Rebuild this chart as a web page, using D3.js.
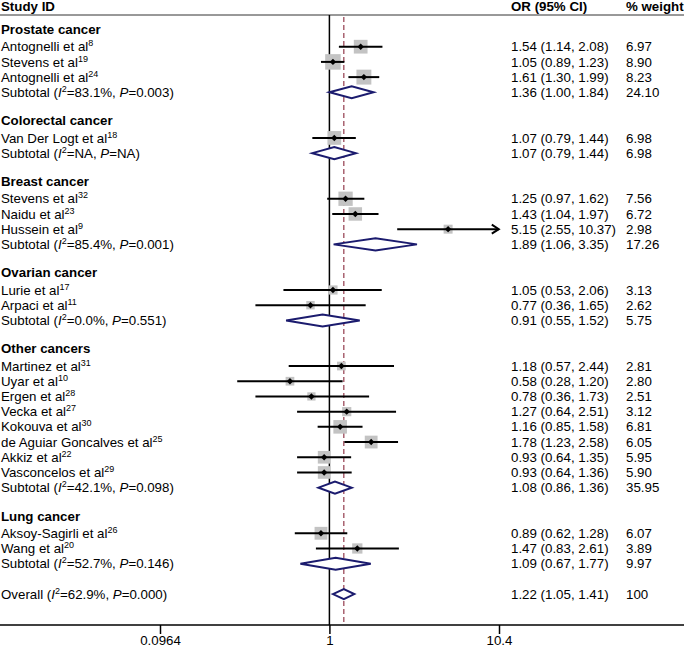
<!DOCTYPE html>
<html>
<head>
<meta charset="utf-8">
<script src="https://cdn.jsdelivr.net/npm/d3@7/dist/d3.min.js"></script>
<style>
  html, body { margin: 0; padding: 0; background: #fff; }
  svg { display: block; font-family: "Liberation Sans", Arial, sans-serif; }
</style>
</head>
<body>
<svg id="chart" width="684" height="649"></svg>
<script>
// ---------------- DATA ----------------
const groupNames = ["Prostate cancer", "Colorectal cancer", "Breast cancer", "Ovarian cancer", "Other cancers", "Lung cancer"];

const studyNames = ["Antognelli", "Stevens", "Antognelli", "Van Der Logt", "Stevens", "Naidu", "Hussein",
  "Lurie", "Arpaci", "Martinez", "Uyar", "Ergen", "Vecka", "Kokouva", "de Aguiar Goncalves", "Akkiz",
  "Vasconcelos", "Aksoy-Sagirli", "Wang"];
const studyRefs = ["8", "19", "24", "18", "32", "23", "9", "17", "11", "31", "10", "28", "27", "30", "25", "22", "29", "26", "20"];
const studyGroup = [0, 0, 0, 1, 2, 2, 2, 3, 3, 4, 4, 4, 4, 4, 4, 4, 4, 5, 5];
const studyOR = [1.54, 1.05, 1.61, 1.07, 1.25, 1.43, 5.15, 1.05, 0.77, 1.18, 0.58, 0.78, 1.27, 1.16, 1.78, 0.93, 0.93, 0.89, 1.47];
const studyLo = [1.14, 0.89, 1.30, 0.79, 0.97, 1.04, 2.55, 0.53, 0.36, 0.57, 0.28, 0.36, 0.64, 0.85, 1.23, 0.64, 0.64, 0.62, 0.83];
const studyHi = [2.08, 1.23, 1.99, 1.44, 1.62, 1.97, 10.37, 2.06, 1.65, 2.44, 1.20, 1.73, 2.51, 1.58, 2.58, 1.35, 1.36, 1.28, 2.61];
const studyWeight = [6.97, 8.90, 8.23, 6.98, 7.56, 6.72, 2.98, 3.13, 2.62, 2.81, 2.80, 2.51, 3.12, 6.81, 6.05, 5.95, 5.90, 6.07, 3.89];

const subOR = [1.36, 1.07, 1.89, 0.91, 1.08, 1.09];
const subLo = [1.00, 0.79, 1.06, 0.55, 0.86, 0.67];
const subHi = [1.84, 1.44, 3.35, 1.52, 1.36, 1.77];
const subWeight = [24.10, 6.98, 17.26, 5.75, 35.95, 9.97];
const subI2 = ["83.1%", "NA", "85.4%", "0.0%", "42.1%", "52.7%"];
const subP = ["0.003", "NA", "0.001", "0.551", "0.098", "0.146"];

const overallOR = 1.22, overallLo = 1.05, overallHi = 1.41, overallWeight = 100;
const overallI2 = "62.9%", overallP = "0.000";

const axisTicks = [0.0964, 1, 10.4];
const axisTickLabels = ["0.0964", "1", "10.4"];

// ---------------- LAYOUT ----------------
const W = 684, H = 649;
const svg = d3.select("#chart");
svg.append("rect").attr("width", W).attr("height", H).attr("fill", "#fff");

const x = d3.scaleLog().domain([0.0964, 10.4]).range([160, 499]);
const rowY = d3.scaleLinear().domain([2, 38]).range([46.7, 594.1]);

const FS = 13.3, SUP = 9;
const colOR = 511, colW = 626;
const headerLineY = 15, axisY = 625;
const navy = "#1b1b6e";
const fmt = d3.format(".2f");

// build row list
const rows = [];
let r = 1;
groupNames.forEach((g, gi) => {
  rows.push({type: "header", row: r, label: g}); r++;
  studyGroup.forEach((sg, i) => {
    if (sg === gi) { rows.push({type: "study", row: r, i}); r++; }
  });
  rows.push({type: "sub", row: r, gi}); r++;
  r++; // blank row
});
rows.push({type: "overall", row: r});

// lines
svg.append("line").attr("x1", 0).attr("x2", W).attr("y1", headerLineY).attr("y2", headerLineY)
  .attr("stroke", "#333").attr("stroke-width", 1);
svg.append("line").attr("x1", x(1)).attr("x2", x(1)).attr("y1", headerLineY).attr("y2", axisY)
  .attr("stroke", "#000").attr("stroke-width", 1.5);
svg.append("line").attr("x1", x(overallOR)).attr("x2", x(overallOR)).attr("y1", headerLineY + 2).attr("y2", axisY)
  .attr("stroke", "#9b4a5a").attr("stroke-width", 1.3).attr("stroke-dasharray", "5,3");

// axis
const axisG = svg.append("g").attr("transform", `translate(0,${axisY})`)
  .call(d3.axisBottom(x).tickValues(axisTicks).tickSize(9).tickFormat((d, i) => axisTickLabels[i]));
axisG.select(".domain").remove();
axisG.selectAll(".tick line").attr("stroke", "#000").attr("stroke-width", 1.5);
axisG.selectAll(".tick text").attr("font-size", FS).attr("font-family", "Liberation Sans, Arial, sans-serif")
  .attr("fill", "#000").attr("y", 11).attr("dy", "0.71em");
svg.append("line").attr("x1", 0).attr("x2", W).attr("y1", axisY).attr("y2", axisY)
  .attr("stroke", "#000").attr("stroke-width", 1.5);

// column headers
const hdr = svg.append("g").attr("font-size", FS).attr("font-weight", "bold").attr("fill", "#000");
hdr.append("text").attr("x", 1).attr("y", 11).text("Study ID");
hdr.append("text").attr("x", colOR).attr("y", 11).text("OR (95% CI)");
hdr.append("text").attr("x", colW).attr("y", 11).text("% weight");

function orText(o, l, h) { return `${fmt(o)} (${fmt(l)}, ${fmt(h)})`; }

function statLabel(t, prefix, i2, p) {
  t.append("tspan").text(prefix + " (");
  t.append("tspan").attr("font-style", "italic").text("I");
  t.append("tspan").attr("font-size", SUP).attr("dy", -5).text("2");
  t.append("tspan").attr("dy", 5).text("=" + i2 + ", ");
  t.append("tspan").attr("font-style", "italic").text("P");
  t.append("tspan").text("=" + p + ")");
}

function diamond(g, o, l, h, y, hh) {
  g.append("path")
    .attr("d", `M${x(l)},${y} L${x(o)},${y - hh} L${x(h)},${y} L${x(o)},${y + hh} Z`)
    .attr("fill", "#fff").attr("stroke", navy).attr("stroke-width", 2).attr("stroke-linejoin", "miter");
}

const g = svg.append("g");
rows.forEach(d => {
  const y = rowY(d.row);
  if (d.type === "header") {
    g.append("text").attr("x", 1).attr("y", y - 2).attr("dy", "0.35em")
      .attr("font-size", FS).attr("font-weight", "bold").text(d.label);
  } else if (d.type === "study") {
    const i = d.i;
    const t = g.append("text").attr("x", 1).attr("y", y).attr("dy", "0.35em").attr("font-size", FS);
    t.append("tspan").text(studyNames[i] + " et al");
    t.append("tspan").attr("font-size", SUP).attr("dy", -5).text(studyRefs[i]);
    g.append("text").attr("x", colOR).attr("y", y).attr("dy", "0.35em").attr("font-size", FS)
      .text(orText(studyOR[i], studyLo[i], studyHi[i]));
    g.append("text").attr("x", colW).attr("y", y).attr("dy", "0.35em").attr("font-size", FS)
      .text(fmt(studyWeight[i]));
    // weight box
    const s = 5.2 * Math.sqrt(studyWeight[i]);
    g.append("rect").attr("x", x(studyOR[i]) - s / 2).attr("y", y - s / 2)
      .attr("width", s).attr("height", s).attr("fill", "#c3c3c3");
    // CI line
    const hiX = x(studyHi[i]);
    g.append("line").attr("x1", x(studyLo[i])).attr("x2", hiX).attr("y1", y).attr("y2", y)
      .attr("stroke", "#000").attr("stroke-width", 2);
    if (studyHi[i] > 10) {
      g.append("path").attr("d", `M${hiX - 7},${y - 4.5} L${hiX},${y} L${hiX - 7},${y + 4.5}`)
        .attr("fill", "none").attr("stroke", "#000").attr("stroke-width", 2);
    }
    // point estimate
    const cx = x(studyOR[i]);
    g.append("path").attr("d", `M${cx - 3.2},${y} L${cx},${y - 3.2} L${cx + 3.2},${y} L${cx},${y + 3.2} Z`)
      .attr("fill", "#000");
  } else if (d.type === "sub") {
    const k = d.gi;
    const t = g.append("text").attr("x", 1).attr("y", y).attr("dy", "0.35em").attr("font-size", FS);
    statLabel(t, "Subtotal", subI2[k], subP[k]);
    g.append("text").attr("x", colOR).attr("y", y).attr("dy", "0.35em").attr("font-size", FS)
      .text(orText(subOR[k], subLo[k], subHi[k]));
    g.append("text").attr("x", colW).attr("y", y).attr("dy", "0.35em").attr("font-size", FS)
      .text(fmt(subWeight[k]));
    diamond(g, subOR[k], subLo[k], subHi[k], y, 6);
  } else {
    const t = g.append("text").attr("x", 1).attr("y", y).attr("dy", "0.35em").attr("font-size", FS);
    statLabel(t, "Overall", overallI2, overallP);
    g.append("text").attr("x", colOR).attr("y", y).attr("dy", "0.35em").attr("font-size", FS)
      .text(orText(overallOR, overallLo, overallHi));
    g.append("text").attr("x", colW).attr("y", y).attr("dy", "0.35em").attr("font-size", FS)
      .text(String(overallWeight));
    diamond(g, overallOR, overallLo, overallHi, y, 5);
  }
});
</script>
</body>
</html>
